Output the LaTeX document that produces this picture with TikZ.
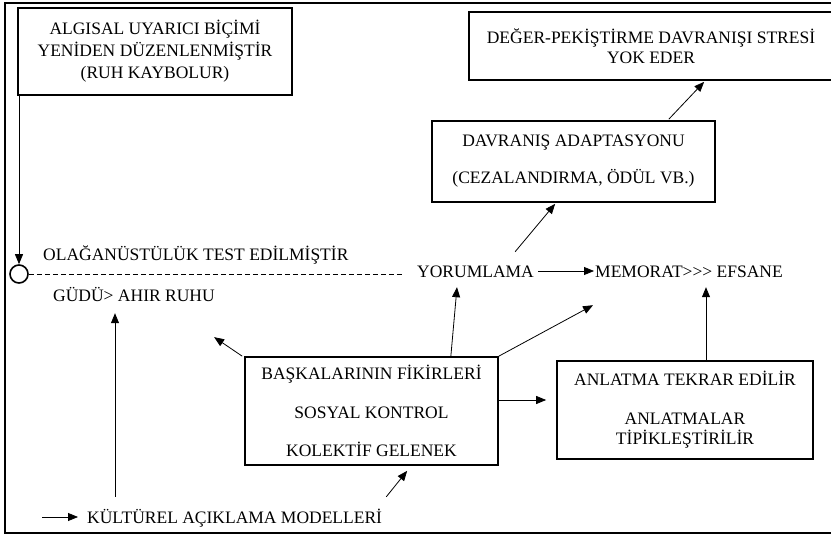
\documentclass[tikz,border=0pt]{standalone}
\usepackage{fontspec}
\setmainfont{Liberation Serif}
\usetikzlibrary{arrows.meta,calc}
\begin{document}
\begin{tikzpicture}[x=1pt,y=-1pt,
  boxnode/.style={draw,line width=1.7pt,inner sep=0pt,align=center,font=\fontsize{17.5}{22}\selectfont},
  lbl/.style={inner sep=0pt,anchor=base west,text height=12pt,text depth=0pt,font=\fontsize{17.5}{22}\selectfont},
  arr/.style={line width=0.8pt,-{Triangle[length=10pt,width=8pt]}},
  conn/.style={line width=0.8pt}]
\useasboundingbox (0,0) rectangle (831,538);
\draw[line width=1.8pt] (5,3) rectangle (836,533);
% boxes
\node[boxnode,minimum width=274pt,minimum height=87pt] (algisal) at (155,51.5)
  {ALGISAL UYARICI BİÇİMİ\\YENİDEN DÜZENLENMİŞTİR\\(RUH KAYBOLUR)};
\node[boxnode,minimum width=364pt,minimum height=68pt,font=\fontsize{17.5}{20}\selectfont] (deger) at (651,46)
  {DEĞER-PEKİŞTİRME DAVRANIŞI STRESİ\\YOK EDER};
\node[boxnode,minimum width=283pt,minimum height=81pt,font=\fontsize{17.5}{37}\selectfont] (davranis) at (573.5,161.5)
  {DAVRANIŞ ADAPTASYONU\\(CEZALANDIRMA, ÖDÜL VB.)};
\node[boxnode,minimum width=253pt,minimum height=108pt,font=\fontsize{17.5}{38.5}\selectfont] (bask) at (371.5,411)
  {BAŞKALARININ FİKİRLERİ\\SOSYAL KONTROL\\KOLEKTİF GELENEK};
\node[boxnode,minimum width=256pt,minimum height=98pt,font=\fontsize{17.5}{20}\selectfont] (anlatma) at (685,410)
  {ANLATMA TEKRAR EDİLİR\\[19pt]ANLATMALAR\\TİPİKLEŞTİRİLİR};
% labels
\node[lbl] (olag) at (43,260) {OLAĞANÜSTÜLÜK TEST EDİLMİŞTİR};
\node[lbl] (gudu) at (53,301) {GÜDÜ> AHIR RUHU};
\node[lbl] (yorum) at (417,277) {YORUMLAMA};
\node[lbl] (memorat) at (595,277) {MEMORAT>{}>{}> EFSANE};
\node[lbl] (kultur) at (87,523) {KÜLTÜREL AÇIKLAMA MODELLERİ};
\node[draw,circle,line width=1.6pt,minimum size=18pt,inner sep=0pt] (circ) at (19,274) {};
\coordinate (dashend) at (403,274);
% connectors
\draw[arr] (algisal.south west -| circ) -- (circ.north);
\draw[conn,dashed,dash pattern=on 5pt off 3pt] (circ.east) -- (dashend);
\draw[arr,shorten <=4pt,shorten >=1pt] (yorum.east) -- (memorat.west);
\draw[arr] ($(yorum.north east)+(-19,-13)$) -- ($(davranis.south west)+(124,1)$);
\draw[arr] ($(davranis.north east)+(-47,-1)$) -- ($(deger.south west)+(236,1)$);
\draw[arr] ($(bask.north east)+(-48,0)$) -- ($(yorum.south west)+(40,10)$);
\draw[arr] (bask.north east) -- ($(memorat.south west)+(-2,28)$);
\draw[arr] ($(bask.north west)+(-2,0)$) -- ($(bask.north west)+(-30,-19)$);
\draw[arr] ($(bask.east)+(0,-11)$) -- ($(anlatma.west)+(-10,-10)$);
\draw[arr] ($(anlatma.north)+(21,0)$) -- ($(memorat.south west)+(111,10)$);
\draw[arr] ($(kultur.north east)+(4,-14)$) -- ($(bask.south west)+(163,5)$);
\draw[arr] ($(kultur.north west)+(28,-14)$) -- ($(gudu.south west)+(62,12)$);
\draw[arr] ($(kultur.west)+(-45,0)$) -- ($(kultur.west)+(-9,0)$);
\end{tikzpicture}
\end{document}
